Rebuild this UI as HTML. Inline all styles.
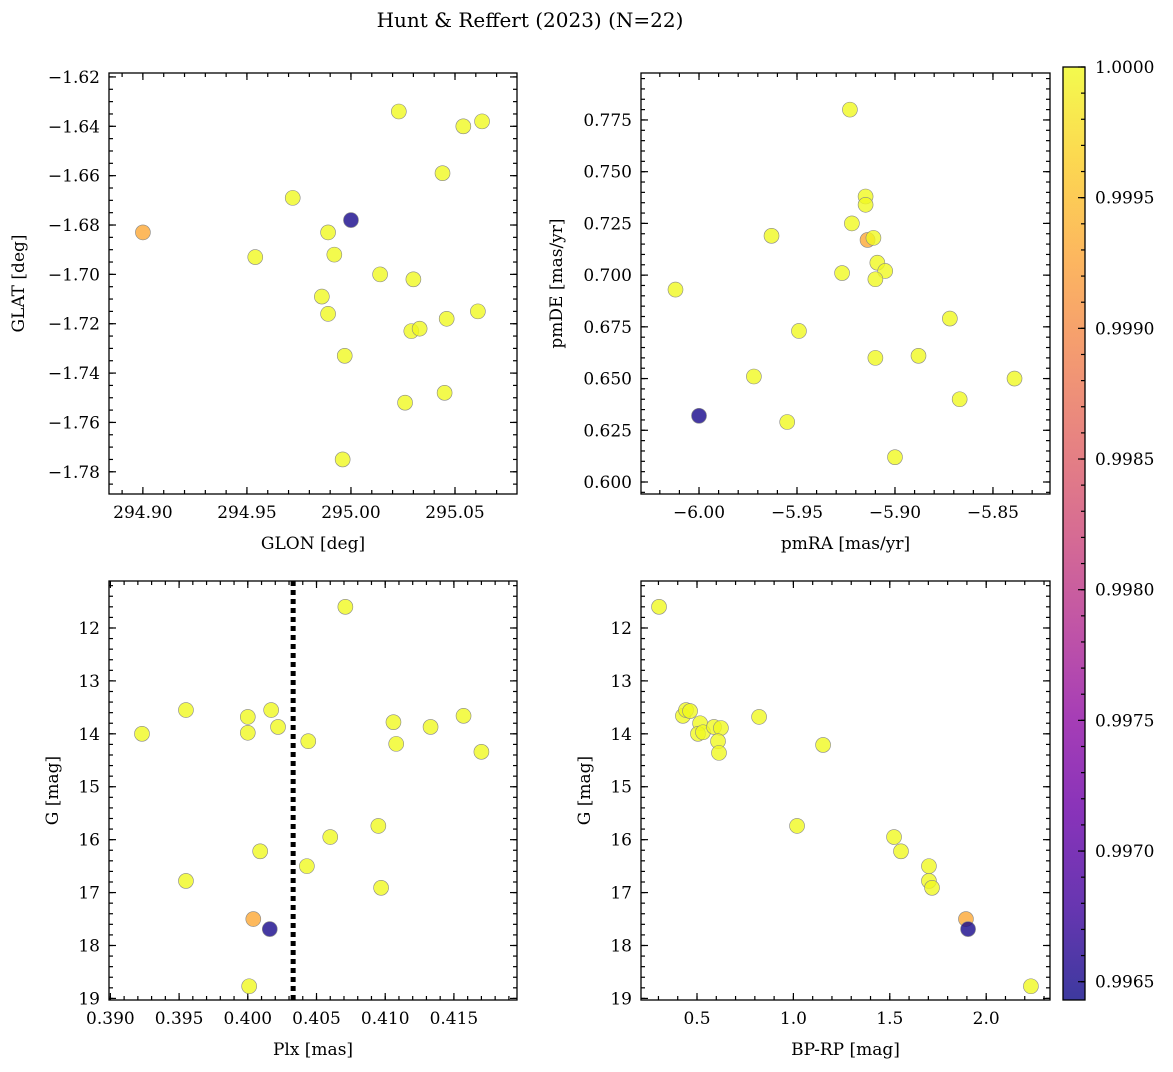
<!DOCTYPE html>
<html><head><meta charset="utf-8">
<style>
body{margin:0;background:#fff;}
svg text{font-family:"DejaVu Serif","Liberation Serif",serif;fill:#000;}
</style></head>
<body>
<svg id="fig" width="1173" height="1067" xmlns="http://www.w3.org/2000/svg">
<defs>
<linearGradient id="plasma" x1="0" y1="1" x2="0" y2="0">
<stop offset="0" stop-color="#0d0887"/><stop offset="0.1" stop-color="#41049d"/>
<stop offset="0.2" stop-color="#6a00a8"/><stop offset="0.3" stop-color="#8f0da4"/>
<stop offset="0.4" stop-color="#b12a90"/><stop offset="0.5" stop-color="#cc4778"/>
<stop offset="0.6" stop-color="#e16462"/><stop offset="0.7" stop-color="#f2844b"/>
<stop offset="0.8" stop-color="#fca636"/><stop offset="0.9" stop-color="#fcce25"/>
<stop offset="1" stop-color="#f0f921"/>
</linearGradient>
</defs>
<text x="530" y="27" font-size="20" text-anchor="middle">Hunt &amp; Reffert (2023) (N=22)</text>
</svg>
<script>
const prob = [1,1,1,1,0.9993,1,0.9965,1,1,1,1,1,1,1,1,1,1,1,1,1,1,1];
const glon = [295.023,295.054,295.063,295.044,294.900,294.972,295.000,294.989,294.954,294.992,295.014,295.030,294.986,294.989,295.046,295.061,295.029,295.033,294.997,295.045,295.026,294.996];
const glat = [-1.634,-1.640,-1.638,-1.659,-1.683,-1.669,-1.678,-1.683,-1.693,-1.692,-1.700,-1.702,-1.709,-1.716,-1.718,-1.715,-1.723,-1.722,-1.733,-1.748,-1.752,-1.775];
const pmra = [-5.923,-5.915,-5.915,-5.922,-5.963,-5.914,-5.911,-5.909,-5.905,-5.927,-5.910,-6.012,-5.872,-5.949,-5.910,-5.888,-5.972,-5.839,-5.867,-6.000,-5.955,-5.900];
const pmde = [0.780,0.738,0.734,0.725,0.719,0.717,0.718,0.706,0.702,0.701,0.698,0.693,0.679,0.673,0.660,0.661,0.651,0.650,0.640,0.632,0.629,0.612];
const prob2 = [1,1,1,1,1,0.9993,1,1,1,1,1,1,1,1,1,1,1,1,1,0.9965,1,1];
const plx = [0.4071,0.3923,0.3955,0.4000,0.4017,0.4022,0.4000,0.4044,0.4106,0.4133,0.4157,0.4108,0.4170,0.4009,0.4060,0.4095,0.3955,0.4043,0.4097,0.4004,0.4016,0.4001];
const gmag3 = [11.6,14.0,13.55,13.68,13.55,13.87,13.98,14.14,13.78,13.87,13.66,14.19,14.34,16.22,15.95,15.74,16.78,16.50,16.91,17.50,17.69,18.77];
const prob3 = [1,1,1,1,1,1,1,1,1,1,1,1,1,1,1,1,1,1,1,0.9993,0.9965,1];
const plxLine = 0.4033;
const bprp = [0.303,0.427,0.443,0.464,0.516,0.505,0.531,0.588,0.624,0.609,0.614,0.822,1.154,1.019,1.522,1.558,1.703,1.703,1.719,1.895,1.906,2.232];
const gmag4 = [11.6,13.66,13.55,13.57,13.80,14.0,13.97,13.87,13.89,14.14,14.36,13.68,14.21,15.74,15.95,16.22,16.50,16.78,16.91,17.50,17.69,18.77];
const prob4 = [1,1,1,1,1,1,1,1,1,1,1,1,1,1,1,1,1,1,1,0.9993,0.9965,1];
const p1xTicks = ["294.90","294.95","295.00","295.05"];
const p1yTicks = ["-1.62","-1.64","-1.66","-1.68","-1.70","-1.72","-1.74","-1.76","-1.78"];
const p2xTicks = ["-6.00","-5.95","-5.90","-5.85"];
const p2yTicks = ["0.600","0.625","0.650","0.675","0.700","0.725","0.750","0.775"];
const p3xTicks = ["0.390","0.395","0.400","0.405","0.410","0.415"];
const gTicks = ["12","13","14","15","16","17","18","19"];
const p4xTicks = ["0.5","1.0","1.5","2.0"];
const cbTicks = ["0.9965","0.9970","0.9975","0.9980","0.9985","0.9990","0.9995","1.0000"];

const NS="http://www.w3.org/2000/svg";
const svg=document.getElementById('fig');
function mk(tag,attrs,parent){const e=document.createElementNS(NS,tag);for(const k in attrs)e.setAttribute(k,attrs[k]);(parent||svg).appendChild(e);return e;}
const stops=[[0,[13,8,135]],[0.1,[65,4,157]],[0.2,[106,0,168]],[0.3,[143,13,164]],[0.4,[177,42,144]],[0.5,[204,71,120]],[0.6,[225,100,98]],[0.7,[242,132,75]],[0.8,[252,166,54]],[0.9,[252,206,37]],[1,[240,249,33]]];
function plasma(t){t=Math.max(0,Math.min(1,t));for(let i=1;i<stops.length;i++){if(t<=stops[i][0]){const a=stops[i-1],b=stops[i];const f=(t-a[0])/(b[0]-a[0]);const c=a[1].map((v,j)=>Math.round(v+(b[1][j]-v)*f));return `rgb(${c})`;}}return 'rgb(240,249,33)';}
const cmin=0.99643,cmax=1.0;
function fmt(s){return s.replace('-','\u2212');}

function panel(o){
  const g=mk('g',{});
  
  
  const sx=v=>o.x0+(v-o.xmin)/(o.xmax-o.xmin)*(o.x1-o.x0);
  const sy=o.inv? v=>o.y0+(v-o.ymin)/(o.ymax-o.ymin)*(o.y1-o.y0) : v=>o.y1-(v-o.ymin)/(o.ymax-o.ymin)*(o.y1-o.y0);
  const tg=mk('g',{stroke:'#000','stroke-width':1.2},g);
  const eps=1e-9;
  function ticksX(start,step,len){for(let v=start;v<=o.xmax+eps;v+=step){if(v<o.xmin)continue;const x=sx(v);mk('line',{x1:x,x2:x,y1:o.y1,y2:o.y1-len},tg);mk('line',{x1:x,x2:x,y1:o.y0,y2:o.y0+len},tg);}}
  function ticksY(start,step,len){for(let v=start;v<=o.ymax+eps;v+=step){if(v<o.ymin)continue;const y=sy(v);mk('line',{x1:o.x0,x2:o.x0+len,y1:y,y2:y},tg);mk('line',{x1:o.x1,x2:o.x1-len,y1:y,y2:y},tg);}}
  ticksX(o.xmin0,o.xminor,4);ticksY(o.ymin0,o.yminor,4);
  o.xt.forEach(s=>{const v=parseFloat(s),x=sx(v);mk('line',{x1:x,x2:x,y1:o.y1,y2:o.y1-7},tg);mk('line',{x1:x,x2:x,y1:o.y0,y2:o.y0+7},tg);
    const t=mk('text',{x:x,y:o.y1+24,'font-size':17,'text-anchor':'middle'},g);t.textContent=fmt(s);});
  o.yt.forEach(s=>{const v=parseFloat(s),y=sy(v);mk('line',{x1:o.x0,x2:o.x0+7,y1:y,y2:y},tg);mk('line',{x1:o.x1,x2:o.x1-7,y1:y,y2:y},tg);
    const t=mk('text',{x:o.x0-9,y:y+6,'font-size':17,'text-anchor':'end'},g);t.textContent=fmt(s);});
  if(o.vline!==undefined){const x=sx(o.vline);const l=mk('line',{x1:x,x2:x,y1:o.y0,y2:o.y1,stroke:'#000','stroke-width':5,'stroke-dasharray':'5,4'},g);}
  o.xs.forEach((v,i)=>{const c=mk('circle',{cx:sx(v),cy:sy(o.ys[i]),r:7.5,fill:plasma((o.c[i]-cmin)/(cmax-cmin)),'fill-opacity':0.8,stroke:'#888','stroke-width':0.6},g);
    });
  const fr=mk('rect',{x:o.x0,y:o.y0,width:o.x1-o.x0,height:o.y1-o.y0,fill:'none',stroke:'#000','stroke-width':1.3},g);
  
  const xl=mk('text',{x:(o.x0+o.x1)/2,y:o.y1+55,'font-size':17,'text-anchor':'middle'},g);xl.textContent=o.xlab;
  
  const ly=(o.y0+o.y1)/2;const yl=mk('text',{x:o.ylx,y:ly,'font-size':17,'text-anchor':'middle',transform:`rotate(-90 ${o.ylx} ${ly})`},g);yl.textContent=o.ylab;
  
}
panel({name:'glon-glat-panel',x0:109,x1:517,y0:73,y1:494,xmin:294.8837,xmax:295.0798,ymin:-1.7890,ymax:-1.6184,xmin0:294.88,xminor:0.01,ymin0:-1.79,yminor:0.005,xt:p1xTicks,yt:p1yTicks,xs:glon,ys:glat,c:prob,xlab:'GLON [deg]',ylab:'GLAT [deg]',ylx:24});
panel({name:'proper-motion-panel',x0:641,x1:1050,y0:73,y1:494,xmin:-6.0296,xmax:-5.8209,ymin:0.5942,ymax:0.7977,xmin0:-6.03,xminor:0.01,ymin0:0.595,yminor:0.005,xt:p2xTicks,yt:p2yTicks,xs:pmra,ys:pmde,c:prob2,xlab:'pmRA [mas/yr]',ylab:'pmDE [mas/yr]',ylx:562});
panel({name:'parallax-magnitude-panel',x0:109,x1:517,y0:581,y1:1000,xmin:0.3899,xmax:0.41959,ymin:11.112,ymax:19.03,inv:true,xmin0:0.390,xminor:0.001,ymin0:11.2,yminor:0.2,xt:p3xTicks,yt:gTicks,xs:plx,ys:gmag3,c:prob3,vline:plxLine,xlab:'Plx [mas]',ylab:'G [mag]',ylx:58});
panel({name:'color-magnitude-panel',x0:641,x1:1050,y0:581,y1:1000,xmin:0.2095,xmax:2.331,ymin:11.112,ymax:19.03,inv:true,xmin0:0.3,xminor:0.1,ymin0:11.2,yminor:0.2,xt:p4xTicks,yt:gTicks,xs:bprp,ys:gmag4,c:prob4,xlab:'BP-RP [mag]',ylab:'G [mag]',ylx:590});

const cb=mk('g',{});


const cx0=1063,cx1=1085,cy0=67,cy1=1000;
mk('rect',{x:cx0,y:cy0,width:cx1-cx0,height:cy1-cy0,fill:'url(#plasma)','fill-opacity':0.8},cb);
const cys=v=>cy1-(v-cmin)/(cmax-cmin)*(cy1-cy0);
for(let v=0.9965;v<=1.00001;v+=0.0001){const y=cys(v);mk('line',{x1:cx1,x2:cx1-4,y1:y,y2:y,stroke:'#000','stroke-width':1.2},cb);}
cbTicks.forEach(s=>{const y=cys(parseFloat(s));mk('line',{x1:cx1,x2:cx1-7,y1:y,y2:y,stroke:'#000','stroke-width':1.2},cb);
  const t=mk('text',{x:cx1+10,y:y+6,'font-size':17},cb);t.textContent=s;});
mk('rect',{x:cx0,y:cy0,width:cx1-cx0,height:cy1-cy0,fill:'none',stroke:'#000','stroke-width':1.3},cb);
</script>
</body></html>
